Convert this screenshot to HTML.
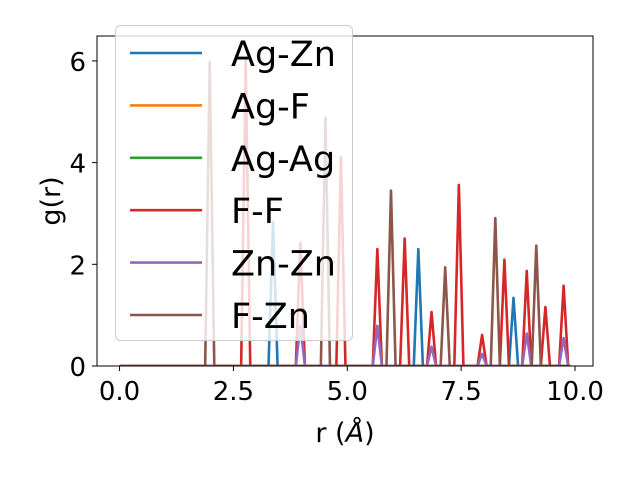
<!DOCTYPE html>
<html><head><meta charset="utf-8"><style>
body{margin:0;background:#fff;}
svg text{font-family:"DejaVu Sans","Liberation Sans",sans-serif;fill:#000;}
</style></head><body>
<svg id="chart" width="640" height="480" viewBox="0 0 640 480" xmlns="http://www.w3.org/2000/svg">
<g id="series"></g>
<g id="axes"></g>
<g id="legend"></g>
</svg>
<script>
const seriesNames = ["Ag-Zn","Ag-F","Ag-Ag","F-F","Zn-Zn","F-Zn"];
const seriesColors = ["#1f77b4","#ff7f0e","#2ca02c","#d62728","#9467bd","#8c564b"];
const agZnR = [3.37, 6.56, 8.65];
const agZnG = [2.83, 2.30, 1.34];
const agFR = [];
const agFG = [];
const agAgR = [];
const agAgG = [];
const ffR = [2.77, 3.97, 4.86, 5.66, 6.26, 6.85, 7.45, 7.96, 8.45, 8.94, 9.35, 9.75];
const ffG = [6.0, 2.42, 4.11, 2.30, 2.51, 1.06, 3.56, 0.61, 2.09, 1.87, 1.16, 1.58];
const znZnR = [3.97, 5.66, 6.85, 7.96, 8.94, 9.75];
const znZnG = [0.80, 0.79, 0.38, 0.24, 0.64, 0.55];
const fZnR = [1.98, 4.52, 5.96, 7.15, 8.25, 9.15];
const fZnG = [5.98, 4.88, 3.45, 1.94, 2.91, 2.37];
const xTicks = [0, 2.5, 5, 7.5, 10];
const xTickLabels = ["0.0","2.5","5.0","7.5","10.0"];
const yTicks = [0, 2, 4, 6];
const yTickLabels = ["0","2","4","6"];
const rMax = 9.9;

const L=97,R=593,T=36,B=366;
const xMin=-0.495,xMax=10.395,yMin=0,yMax=6.49;
const sx=v=>L+(v-xMin)/(xMax-xMin)*(R-L);
const sy=v=>B-(v-yMin)/(yMax-yMin)*(B-T);
const NS="http://www.w3.org/2000/svg";
function mk(tag,attrs,parent){const e=document.createElementNS(NS,tag);for(const k in attrs)e.setAttribute(k,attrs[k]);parent.appendChild(e);return e;}

const sg=document.getElementById('series');
const clip=mk('clipPath',{id:'pc'},sg);mk('rect',{x:L,y:T,width:R-L,height:B-T},clip);
const data=[[agZnR,agZnG],[agFR,agFG],[agAgR,agAgG],[ffR,ffG],[znZnR,znZnG],[fZnR,fZnG]];
const hw=0.1;
data.forEach((d,i)=>{
  const rs=d[0],gs=d[1];
  let pts=[[0,0]];
  const idx=rs.map((_,k)=>k).sort((a,b)=>rs[a]-rs[b]);
  idx.forEach(k=>{pts.push([rs[k]-hw,0]);pts.push([rs[k],gs[k]]);pts.push([rs[k]+hw,0]);});
  pts.push([rMax,0]);
  const p=mk('polyline',{points:pts.map(q=>sx(q[0]).toFixed(2)+','+sy(q[1]).toFixed(2)).join(' '),fill:'none',stroke:seriesColors[i],'stroke-width':2.6,'stroke-linejoin':'round','clip-path':'url(#pc)'},sg);
  
  
});

const ax=document.getElementById('axes');
const fr=mk('rect',{x:L,y:T,width:R-L,height:B-T,fill:'none',stroke:'#000','stroke-width':1},ax);

xTicks.forEach((v,i)=>{
  const x=sx(v);
  const t=mk('line',{x1:x,x2:x,y1:B,y2:B+5,stroke:'#000','stroke-width':1},ax);
  
  const tx=mk('text',{x:x,y:B+34,'text-anchor':'middle','font-size':26},ax);tx.textContent=xTickLabels[i];
  
});
yTicks.forEach((v,i)=>{
  const y=sy(v);
  const t=mk('line',{x1:L-5,x2:L,y1:y,y2:y,stroke:'#000','stroke-width':1},ax);
  
  const tx=mk('text',{x:L-11,y:y+10,'text-anchor':'end','font-size':26},ax);tx.textContent=yTickLabels[i];
  
});
const xl=mk('text',{x:(L+R)/2,y:442,'text-anchor':'middle','font-size':27},ax);
xl.innerHTML='r (<tspan font-style="italic">Å</tspan>)';

const yl=mk('text',{x:0,y:0,'text-anchor':'middle','font-size':27,transform:'translate(60,'+((T+B)/2)+') rotate(-90)'},ax);
yl.textContent='g(r)';


const lg=document.getElementById('legend');
const box=mk('rect',{x:115.5,y:25.5,width:237,height:315,rx:5,fill:'#fff','fill-opacity':0.8,stroke:'#ccc','stroke-width':1},lg);

seriesNames.forEach((n,i)=>{
  const y=53+i*52.4;
  const ln=mk('line',{x1:130,x2:202,y1:y,y2:y,stroke:seriesColors[i],'stroke-width':2.6},lg);
  
  const tx=mk('text',{x:231,y:y+13,'font-size':35},lg);tx.textContent=n;
  
});
</script>
</body></html>
